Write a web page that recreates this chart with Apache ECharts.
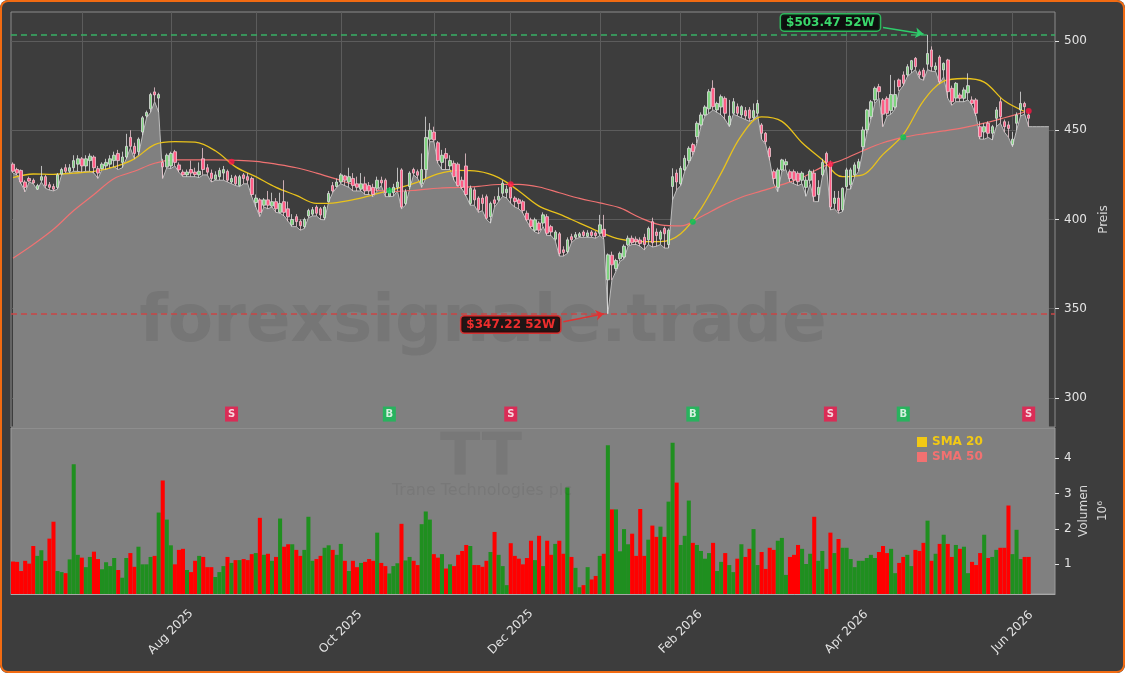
<!DOCTYPE html>
<html>
<head>
<meta charset="utf-8">
<title>Trane Technologies plc</title>
<script src="https://cdn.jsdelivr.net/npm/echarts@6.0.0/dist/echarts.min.js"></script>
<style>
html, body { margin: 0; padding: 0; background: #fff; }
.wrap { position: relative; width: 1125px; height: 673px; background: #3d3d3d; border-radius: 8px; overflow: hidden; }
#chart { position: absolute; left: 0; top: 0; width: 1125px; height: 673px; }
.frame { position: absolute; left: 0; top: 0; right: 0; bottom: 0; border: 2px solid #f26b12; border-radius: 8px; pointer-events: none; }
</style>
</head>
<body>
<div class="wrap"><div id="chart"></div><div class="frame"></div></div>
<script>
// TT daily candles, Jun 2025 - Jun 2026
const HIGH_52W = 503.47;
const LOW_52W = 347.22;

// [open, close, low, high] per trading day
const ohlc = [
  [431,427,426,432],[428,426,425,429],[427.5,421,420,428],[421,418,415.5,422],[423,421.5,421,424],
  [422,420.5,420,423],[417,419,416.6,420],[422,424,421,430],[424,419,417.5,425],[419.5,418,416.5,421],
  [418.5,417,416,420],[418,425,417,426],[425.5,428,425,429],[429,427,426,431],[427,429,426,431],
  [429,433,427,436],[431,434,427,436],[434,430,426.5,435],[430,434,427,436],[433,435.5,427,437],
  [435,429,426,436],[428.5,426,423,430],[428.5,431,428,432],[430,432,428,434],[431,434,429,436],
  [433,436,429.5,438],[437,433,428,439],[432,435,429,438],[435,441,434,448],[446,441,440,450],
  [441,437,434,443],[438,445,436,446],[449,457,447,458],[458,460,457,461],[462,470,460,471],
  [471.5,469.8,466,474],[468,470,460,471],[432,429.5,423,434],[429.5,436,429,437],[430,437,428.5,438],
  [438,432,430,439],[430.6,427.8,426.5,432],[426.6,425,424,428],[425,426.6,424,428],[428,426,424,433],
  [426.6,425.2,424,429],[425,427,423.5,432],[434,428,425,440],[429,426.5,425,431],[426,423,421,428],
  [422.5,425,422,427],[424,427.5,422,429],[426,428,422,430],[427,422,421,428],[421,423,420,425],
  [424,420,419,425],[419,424,418.4,425],[425,423,420,426],[424,422,420,426],[423,414,412.8,424],
  [409.5,412,407,414],[411,404,401.6,412],[408,411,407,412],[411,408,406,416],[407.5,410,407,415],
  [410,406,404,412],[404,409,403.5,415],[410,404,402,422],[406,401.5,399,410],[397,400,396,403],
  [401.6,398.8,396,403],[399,396.5,394,400],[396,400,395,401],[402,405,401,406],[403,405.5,402,407],
  [407,403.5,402,408],[406,402.5,400,407],[401,407,399.8,408],[410,414.6,410,416],[419,416,415,421],
  [418.5,421,418,423],[421,425,420,426],[424.4,422,419,425],[421,424,418,429],[423,419,416,426],
  [420,418,416,424],[417,420,416,426],[420,416,414,424],[419,416,414,421],[418,414,412.8,420],
  [417.5,422,416,424],[422,420.5,419,424],[422,415,412.8,423],[413,416,412.8,418],[415,418,413,420],
  [418,421,416,429],[427.8,407,406,428.7],[409,415.6,408,417],[418.5,426,417,427],[428,426,425,429],
  [426.8,424.8,423,428],[420,428,418,437],[428,446,423,457.6],[445,450,443.6,454],[449,444.6,443.6,452],
  [443,433,431.5,444],[432,436,428,439],[437,434.3,428,440],[430,433,428,436],[431.5,424,422,433],
  [431,419,418.5,432],[422,418,417,424],[430,414,413,437],[409,417.5,408,419],[416.6,411,408,418],
  [412,405.4,404,413],[412,409,405,414],[412.8,400.7,400,414],[401.6,409,398,410],[411,409,407,413],
  [411,413,410,418],[414.7,420.3,413,422],[415,417,412,419],[418,412,409,420],[412,410,407,413],
  [411,409,406,412],[410,405,403.5,411],[403.5,399.8,399,405],[399.8,396,395,401],[394,399.8,393,401],
  [398,394,392,399],[398,402.6,396,404],[401.6,392.3,391,403],[396,393,391,397],[389,393,388,394],
  [392,381,379.5,393],[383,381.5,379.5,385],[382,388.6,381,390],[390.4,388.6,387,392],[390,391.5,389,393],
  [390.5,392,390,393],[393,391,390,394],[390.5,392.5,390,394],[393,391,390,394],[392.5,391,389.5,393.5],
  [392.3,397,391,402.6],[394.5,390.5,389,402.6],[366.2,380.2,347.22,381],[380,374.6,366,382],[372.5,377,371,378],
  [378,381,376.6,382],[379,385,378,386],[385.8,389.5,385,391],[389.5,387,386,391],[389,387.5,386,390.5],
  [388.5,386.5,385,390],[390,386,383,392],[388.6,395,386,396],[398.8,387,384.6,401],[393,391,385,395],
  [389,393,386,394],[395,392,384,396],[386,394,384,395],[418.5,424,411,428.7],[426,421,416.6,428],
  [420,428.7,419,430],[427.8,434.3,427,436],[433,439.9,431.5,441],[442,438,436,443],[446.4,453.9,442.7,455],
  [453,458.6,452,460],[458.6,463,458,464],[462,471.6,459.5,473],[473.5,463.2,461.4,478],[461.4,465,460,466],
  [463,468.8,458.6,470],[467.9,459.5,456,469],[453,458,452,467],[459.5,466,459,468],[463.2,459.5,458,465],
  [458.6,463.2,457,464],[461,458,456,463],[461.4,456.7,455,463],[457,461,456,465],[459.5,465,458.6,467],
  [453,448.3,445,454],[448.3,443.6,442,449],[439.9,435.2,433,441],[426.8,423,420,428],[418,427.8,415.6,429],
  [427.8,433.4,427,434],[430.6,432.4,428,434],[426.8,423,421,428],[426.8,422.2,420,428],[425.9,421.2,419,427],
  [422,426,420,427],[418,422,413,424],[422,427,420,428],[426,413,410,428],[414,418,410,422],
  [425,432,424,434],[437,432,430,438],[431.5,407,405.4,433],[409,412,406,416],[412,405,403.5,416],
  [405.4,417.5,404.4,418],[418.4,427.8,417,429],[419.4,427.8,417,429],[425,430.6,424,432],[428.7,432.4,427,434],
  [440.8,450.2,438,452],[450.2,461.4,448,462],[457.6,466,456,467],[467,473.5,465,474.5],[474.4,471.6,468,476],
  [467,459,452,468],[467.9,459.5,458,469],[461,470,459,481],[463,470,462,478],[478.2,474.4,472,479],
  [481,476.3,475,483],[481,485.6,480,487],[484,489,482,489.4],[490.3,485.6,484,491],[482.8,481,479,484],
  [483.7,480,478,485],[487,493,484,503.47],[495,485.6,483,497],[484,486,483,488],[491,477.2,476,492],
  [483.8,487.5,480,488],[489.4,471.6,468,490],[473.5,466,464,475],[468,476.3,466,477],[469.8,467.9,466,471],
  [467.9,472.6,466,474],[471,475,467,481.9],[467,465,464,469],[467,459.5,458,468],[452,446.4,445,455],
  [449,452,445,454],[453.9,448.3,446,455],[448.3,452,444.6,453],[456.7,461.4,452,463],[466,457.6,454,468],
  [454.8,452,449,456],[453,451,446,455],[442,445,440.8,449],[453.9,458.6,450,460],[461.4,465,458,471.6],
  [465,463.2,459,466],[458.6,456.7,452,460]
];

// volume in millions
const volume = [
  1.07,1.06,0.80,1.09,1.01,1.51,1.23,1.39,1.09,1.72,
  2.20,0.80,0.77,0.74,1.13,3.83,1.26,1.18,0.91,1.20,
  1.35,1.14,0.85,1.05,0.94,1.17,0.83,0.61,1.17,1.31,
  0.92,1.49,0.99,0.99,1.20,1.23,2.46,3.37,2.26,1.53,
  0.99,1.40,1.43,0.83,0.77,1.09,1.23,1.20,0.91,0.91,
  0.63,0.77,0.94,1.20,1.03,1.11,1.11,1.14,1.11,1.28,
  1.31,2.31,1.26,1.29,1.09,1.20,2.29,1.49,1.56,1.56,
  1.40,1.23,1.40,2.34,1.09,1.14,1.23,1.46,1.53,1.40,
  1.26,1.57,1.09,0.80,1.09,0.91,1.03,1.06,1.14,1.09,
  1.89,1.03,0.94,0.73,0.94,1.02,2.14,1.10,1.20,1.09,
  0.97,2.13,2.49,2.26,1.28,1.18,1.28,0.87,0.99,0.94,
  1.26,1.37,1.54,1.51,0.97,0.97,0.92,1.09,1.34,1.91,
  1.26,0.94,0.40,1.59,1.23,1.15,0.99,1.17,1.66,1.11,
  1.80,0.94,1.66,1.26,1.57,1.66,1.29,3.17,1.20,0.89,
  0.34,0.40,0.91,0.56,0.66,1.23,1.29,4.37,2.55,2.55,
  1.36,1.99,1.56,1.86,1.23,2.56,1.23,1.69,2.09,1.77,
  2.06,1.77,2.77,4.44,3.31,1.54,1.80,2.80,1.60,1.54,
  1.37,1.15,1.31,1.60,0.80,1.06,1.31,0.97,0.77,1.15,
  1.56,1.20,1.43,1.99,0.97,1.34,0.86,1.46,1.40,1.66,
  1.74,0.69,1.20,1.26,1.54,1.43,1.00,1.29,2.34,1.09,
  1.37,0.86,1.89,1.31,1.71,1.46,1.46,1.14,0.91,1.09,
  1.09,1.17,1.26,1.17,1.34,1.51,1.31,1.43,0.74,1.03,
  1.20,1.26,0.94,1.40,1.37,1.60,2.23,1.09,1.29,1.57,
  1.83,1.57,1.20,1.54,1.43,1.49,0.74,1.06,0.97,1.31,
  1.83,1.17,1.20,1.40,1.46,1.46,2.66,1.28,1.97,1.14,
  1.20,1.20
];

// the grey area keeps going flat after the last candle
const areaTail = [452, 452, 452, 452, 452];

// moving averages, read every 5 trading days
const SMA_STEP = 5;
const sma20 = [
  423.5,425.5,425.3,426,427,429.5,434,442,443.6,443.3,
  438.5,429.5,424,418,413.5,409,409.5,411.5,414.5,417.5,
  421,425.5,427.5,427,423.5,416,407.5,403,398,393,
  389,387.6,387.6,392,406,426,447,457.5,455,443,
  433.5,424,425,436.5,447.5,466.5,477.5,479,477,466.5,
  460.5
];
const sma50 = [
  378.3,386,394.5,405,414,423,427,431.5,433.4,433.4,
  433.4,433.2,432.6,431,429,426,422.6,419,416.4,415.8,
  416.5,417.5,418,418.6,419.6,419.7,418.2,415,411.8,409.3,
  406.5,401,397,396.4,401.5,407.5,412.5,416,419.5,423.5,
  429.5,433.5,438.5,443,446,448,449.6,451.5,454,457,
  460.2
];

// SMA crossovers
const sigIdx = [54, 93, 123, 168, 202, 220, 251];
const sigType = ['S', 'B', 'S', 'B', 'S', 'B', 'S'];
const sigPrice = [432.4, 416.2, 419.7, 398.8, 431.1, 446.1, 460.8];

const priceTicks = [300, 350, 400, 450, 500];
const volTicks = [1, 2, 3, 4];
const MONTHS = ['Jan', 'Feb', 'Mar', 'Apr', 'May', 'Jun', 'Jul', 'Aug', 'Sep', 'Oct', 'Nov', 'Dec'];
const HOLIDAYS = ['2025-06-19', '2025-07-04', '2025-09-01', '2025-11-27', '2025-12-25',
  '2026-01-01', '2026-01-19', '2026-02-16', '2026-04-03', '2026-05-25'];

function tradingDays (start, n) {
  const out = [];
  const d = new Date(start + 'T12:00:00Z');
  while (out.length < n) {
    const s = d.toISOString().slice(0, 10);
    const dow = d.getUTCDay();
    if (dow !== 0 && dow !== 6 && HOLIDAYS.indexOf(s) < 0) out.push(s);
    d.setUTCDate(d.getUTCDate() + 1);
  }
  return out;
}

const dates = tradingDays('2025-06-05', ohlc.length + areaTail.length + 1);
const monthStart = new Set();
for (let i = 1; i < dates.length; i++) {
  if (dates[i].slice(0, 7) !== dates[i - 1].slice(0, 7)) monthStart.add(i);
}

const FONT = 'DejaVu Sans';
const TXT = '#e4e4e4';
const GREEN = '#1f8f1f';
const RED = '#ff0000';

const lowArea = ohlc.map(r => r[2]).concat(areaTail);
const volData = volume.map((v, i) => ({
  value: v,
  itemStyle: { color: ohlc[i][1] >= ohlc[i][0] ? GREEN : RED }
}));

// grid lines sit under the grey area
const gridLines = priceTicks.map(v => ({ yAxis: v }))
  .concat(Array.from(monthStart).map(i => ({ xAxis: dates[i] })));

const highText = '$' + HIGH_52W.toFixed(2) + ' 52W';
const lowText = '$' + LOW_52W.toFixed(2) + ' 52W';

const option = {
  animation: false,
  textStyle: { fontFamily: FONT },
  grid: [
    { left: 11, right: 70, top: 12, height: 415, show: true, borderColor: '#8c8c8c', borderWidth: 1, backgroundColor: 'rgba(0,0,0,0)' },
    { left: 11, right: 70, top: 428, height: 166, show: true, borderColor: '#9c9c9c', borderWidth: 1, backgroundColor: '#808080' }
  ],
  legend: {
    orient: 'vertical',
    left: 912,
    top: 431,
    itemWidth: 10,
    itemHeight: 10,
    itemGap: 3,
    icon: 'rect',
    textStyle: { fontWeight: 'bold', fontSize: 12, fontFamily: FONT },
    data: [
      { name: 'SMA 20', textStyle: { color: '#f2c914' } },
      { name: 'SMA 50', textStyle: { color: '#f27171' } }
    ]
  },
  xAxis: [
    {
      type: 'category', gridIndex: 0, data: dates, boundaryGap: true,
      axisLine: { show: false }, axisTick: { show: false }, axisLabel: { show: false }, splitLine: { show: false }
    },
    {
      type: 'category', gridIndex: 1, data: dates, boundaryGap: true,
      axisLine: { lineStyle: { color: '#a8a8a8' } },
      axisTick: { alignWithLabel: true, interval: (i) => monthStart.has(i), length: 4, lineStyle: { color: TXT } },
      axisLabel: {
        interval: (i) => monthStart.has(i) && (+dates[i].slice(5, 7)) % 2 === 0,
        rotate: 45, align: 'center', verticalAlign: 'middle', margin: 38,
        color: TXT, fontSize: 12,
        formatter: (v) => MONTHS[+v.slice(5, 7) - 1] + ' ' + v.slice(0, 4)
      },
      splitLine: { show: false }
    }
  ],
  yAxis: [
    {
      type: 'value', gridIndex: 0, position: 'right', min: 283.75, max: 516.25,
      axisLine: { show: false },
      axisTick: { show: true, customValues: priceTicks, length: 4, lineStyle: { color: TXT } },
      axisLabel: { customValues: priceTicks, color: TXT, fontSize: 12, margin: 9 },
      splitLine: { show: false },
      name: 'Preis', nameLocation: 'middle', nameRotate: 90, nameGap: 41,
      nameTextStyle: { color: '#d8d8d8', fontSize: 12 }
    },
    {
      type: 'value', gridIndex: 1, position: 'right', min: 0.148, max: 4.86,
      axisLine: { show: false },
      axisTick: { show: true, customValues: volTicks, length: 4, lineStyle: { color: TXT } },
      axisLabel: { customValues: volTicks, color: TXT, fontSize: 12, margin: 9 },
      splitLine: { show: false },
      name: 'Volumen\n10\u2076', nameLocation: 'middle', nameRotate: 90, nameGap: 19,
      nameMoveOverlap: false,
      nameTextStyle: { color: '#d8d8d8', fontSize: 12, lineHeight: 19 }
    }
  ],
  series: [
    {
      type: 'line', xAxisIndex: 0, yAxisIndex: 0, data: [], silent: true, z: 1,
      markLine: {
        silent: true, symbol: 'none', z: 1, animation: false,
        label: { show: false },
        lineStyle: { color: '#5c5c5c', width: 1, type: 'solid' },
        data: gridLines
      }
    },
    {
      name: 'Tief', type: 'line', xAxisIndex: 0, yAxisIndex: 0, data: lowArea,
      symbol: 'none', silent: true, z: 2,
      lineStyle: { color: '#bdbdbd', width: 1 },
      areaStyle: { color: '#808080', opacity: 1, origin: 'start' }
    },
    {
      name: 'TT', type: 'candlestick', xAxisIndex: 0, yAxisIndex: 0, data: ohlc, barWidth: 3, z: 4,
      itemStyle: {
        color: '#7fd37f', color0: '#ff5d86',
        borderColor: '#dedede', borderColor0: '#efc9d2', borderWidth: 0.8
      },
      markLine: {
        silent: true, symbol: 'none', z: 6,
        label: { show: false },
        data: [
          { yAxis: HIGH_52W, lineStyle: { color: '#37b064', width: 1.5, type: [6, 4] } },
          { yAxis: LOW_52W, lineStyle: { color: '#c94545', width: 1.5, type: [6, 4] } },
          [
            { coord: [dates[215], 507.6], symbol: 'none', lineStyle: { color: '#2fcc6b', width: 1.5, type: 'solid' } },
            { coord: [dates[225], 503.9], symbol: 'arrow', symbolSize: 8 }
          ],
          [
            { coord: [dates[136], 342.7], symbol: 'none', lineStyle: { color: '#e03232', width: 1.5, type: 'solid' } },
            { coord: [dates[146], LOW_52W], symbol: 'arrow', symbolSize: 8 }
          ]
        ]
      },
      markPoint: {
        silent: true, symbol: 'rect', symbolSize: 1, z: 7,
        itemStyle: { color: 'rgba(0,0,0,0)' },
        data: [
          {
            coord: [dates[202], 510.4],
            label: {
              show: true, position: 'inside', formatter: highText,
              color: '#3ad86c', fontWeight: 'bold', fontSize: 12,
              backgroundColor: 'rgba(8,8,8,0.88)', borderColor: '#2fb65c', borderWidth: 1.5, borderRadius: 3, padding: [2, 5]
            }
          },
          {
            coord: [dates[123], 341.2],
            label: {
              show: true, position: 'inside', formatter: lowText,
              color: '#ee2d2d', fontWeight: 'bold', fontSize: 12,
              backgroundColor: 'rgba(18,8,8,0.88)', borderColor: '#d33333', borderWidth: 1.5, borderRadius: 3, padding: [2, 5]
            }
          }
        ]
      }
    },
    {
      name: 'SMA 20', type: 'line', xAxisIndex: 0, yAxisIndex: 0, z: 4,
      data: sma20.map((v, k) => [dates[k * SMA_STEP], v]),
      smooth: 0.35, symbol: 'none', silent: true,
      itemStyle: { color: '#f2c914' },
      lineStyle: { color: '#e9c21b', width: 1.3 }
    },
    {
      name: 'SMA 50', type: 'line', xAxisIndex: 0, yAxisIndex: 0, z: 4,
      data: sma50.map((v, k) => [dates[k * SMA_STEP], v]),
      smooth: 0.35, symbol: 'none', silent: true,
      itemStyle: { color: '#f27171' },
      lineStyle: { color: '#f07272', width: 1.2 }
    },
    {
      type: 'scatter', xAxisIndex: 0, yAxisIndex: 0, z: 5, symbolSize: 6, silent: true,
      data: sigIdx.map((i, k) => ({
        value: [dates[i], sigPrice[k]],
        itemStyle: { color: sigType[k] === 'B' ? '#00c853' : '#ff1744' }
      }))
    },
    {
      type: 'scatter', xAxisIndex: 0, yAxisIndex: 0, z: 5, symbol: 'rect', symbolSize: [13, 15], silent: true,
      data: sigIdx.map((i, k) => ({
        value: [dates[i], 291],
        itemStyle: { color: sigType[k] === 'B' ? '#12bf55' : '#f0174b' },
        label: { show: true, position: 'inside', formatter: sigType[k], color: '#fff', fontWeight: 'bold', fontSize: 10 }
      }))
    },
    {
      name: 'Volumen', type: 'bar', xAxisIndex: 1, yAxisIndex: 1, data: volData,
      barCategoryGap: '0%', silent: true, z: 2
    }
  ],
  graphic: [
    {
      type: 'text', z: 3, silent: true,
      style: {
        text: 'forexsignale.trade', x: 483, y: 324, align: 'center', verticalAlign: 'middle',
        font: 'bold 66px "DejaVu Sans"', fill: 'rgba(30,30,30,0.1)'
      }
    },
    {
      type: 'text', z: 3, silent: true,
      style: {
        text: 'TT', x: 481, y: 460, align: 'center', verticalAlign: 'middle',
        font: 'bold 59px "DejaVu Sans"', fill: 'rgba(30,30,30,0.08)'
      }
    },
    {
      type: 'text', z: 3, silent: true,
      style: {
        text: 'Trane Technologies plc', x: 482, y: 491, align: 'center', verticalAlign: 'middle',
        font: '16px "DejaVu Sans"', fill: 'rgba(30,30,30,0.08)'
      }
    }
  ]
};

const chart = echarts.init(document.getElementById('chart'));
chart.setOption(option);
</script>
</body>
</html>
